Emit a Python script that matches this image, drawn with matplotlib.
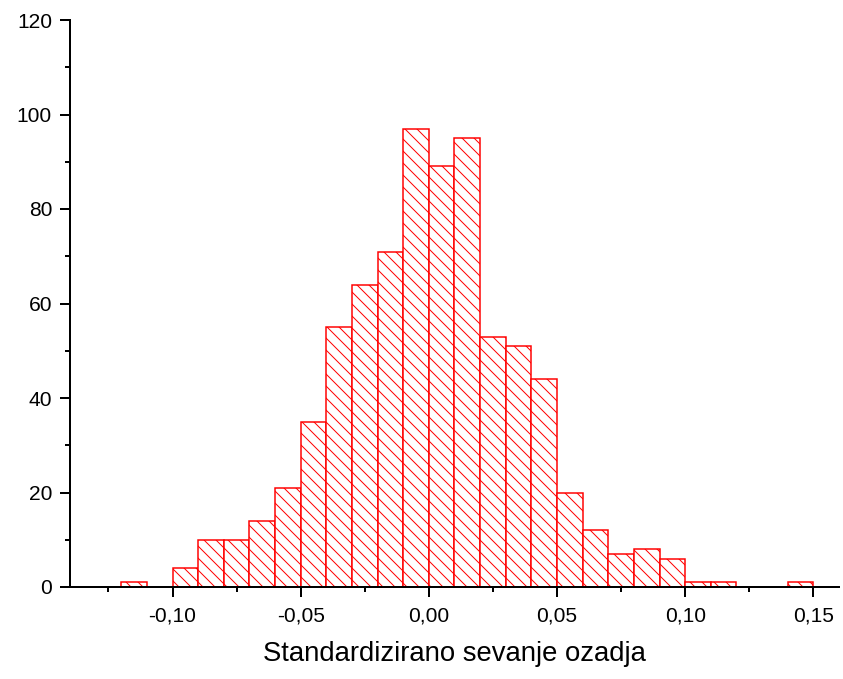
import numpy as np
import matplotlib.pyplot as plt
from matplotlib.ticker import MultipleLocator, FuncFormatter

# histogram bins (left edge) and counts
bin_left = [-0.12, -0.10, -0.09, -0.08, -0.07, -0.06, -0.05, -0.04, -0.03, -0.02,
            -0.01, 0.00, 0.01, 0.02, 0.03, 0.04, 0.05, 0.06, 0.07, 0.08,
            0.09, 0.10, 0.11, 0.14]
counts = [1, 4, 10, 10, 14, 21, 35, 55, 64, 71,
          97, 89, 95, 53, 51, 44, 20, 12, 7, 8,
          6, 1, 1, 1]
bin_width = 0.01

plt.rcParams['font.family'] = ['Liberation Sans', 'DejaVu Sans']
plt.rcParams['hatch.linewidth'] = 1.0

fig = plt.figure(figsize=(843 / 72, 679 / 72), dpi=72)
ax = fig.add_axes([70 / 843, 1 - 587 / 679, (839 - 70) / 843, (587 - 20) / 679])

ax.bar(bin_left, counts, width=bin_width, align='edge', facecolor='white',
       edgecolor='red', linewidth=1.5, hatch='\\\\')

ax.set_xlim(-0.14, 0.16)
ax.set_ylim(0, 120)

for s in ['top', 'right']:
    ax.spines[s].set_visible(False)
for s in ['left', 'bottom']:
    ax.spines[s].set_linewidth(2)

ax.xaxis.set_major_locator(MultipleLocator(0.05))
ax.xaxis.set_minor_locator(MultipleLocator(0.025))
ax.yaxis.set_major_locator(MultipleLocator(20))
ax.yaxis.set_minor_locator(MultipleLocator(10))


def comma_fmt(v, pos):
    if abs(v) < 1e-9:
        v = 0.0
    return f"{v:.2f}".replace('.', ',')


ax.xaxis.set_major_formatter(FuncFormatter(comma_fmt))
ax.tick_params(which='major', direction='out', length=10, width=2, labelsize=21, pad=9)
ax.tick_params(which='minor', direction='out', length=5, width=2)
ax.tick_params(axis='y', pad=8)

ax.set_xlabel("Standardizirano sevanje ozadja", fontsize=27.5, labelpad=16)

fig.savefig("out.png", dpi=72)
